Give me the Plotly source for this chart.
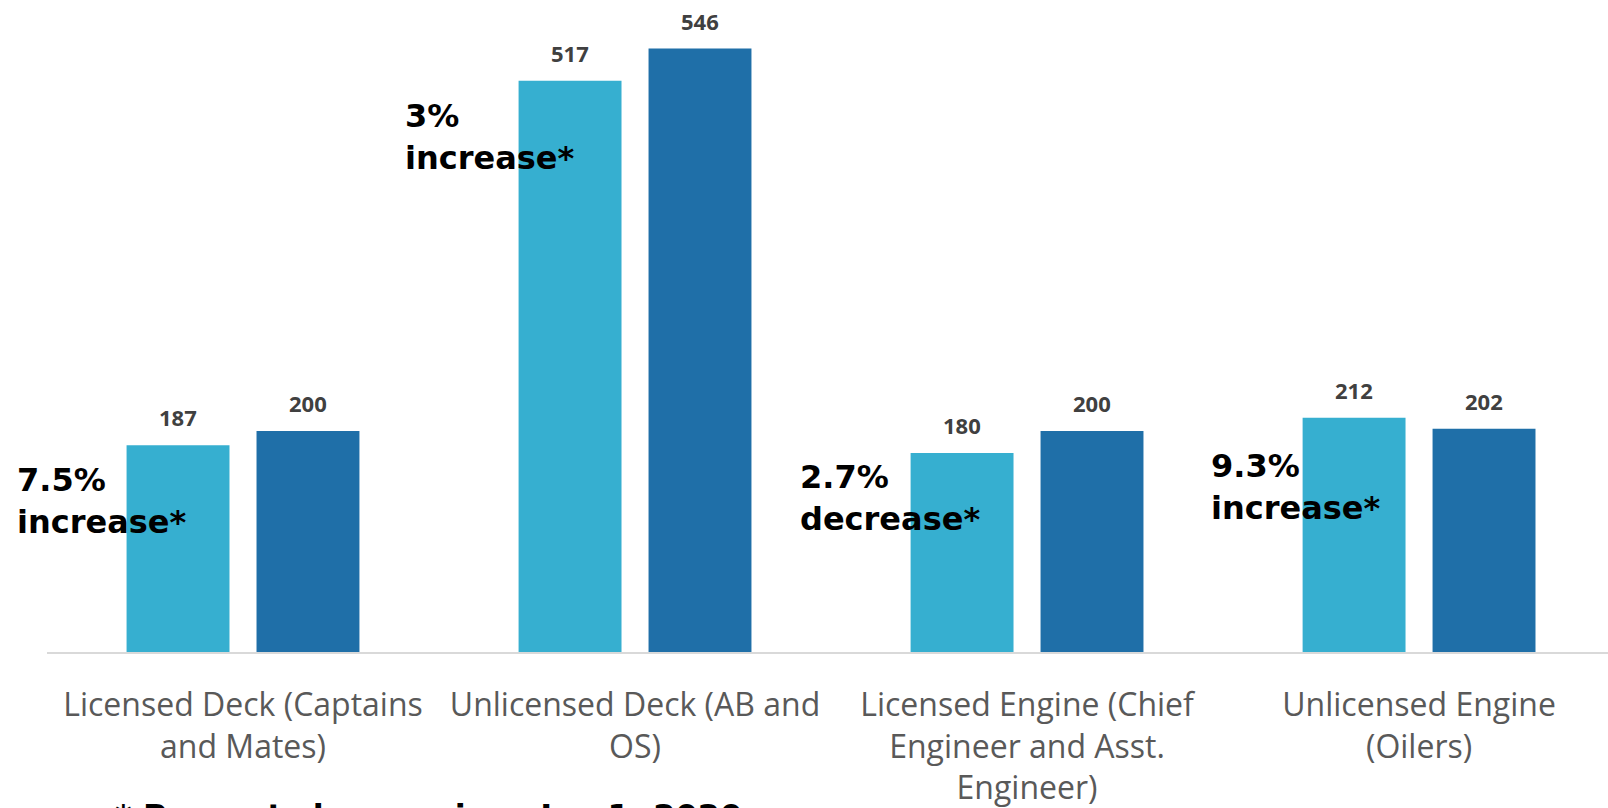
import plotly.graph_objects as go

categories = [
    "Licensed Deck (Captains<br>and Mates)",
    "Unlicensed Deck (AB and<br>OS)",
    "Licensed Engine (Chief<br>Engineer and Asst.<br>Engineer)",
    "Unlicensed Engine<br>(Oilers)",
]
series_2020 = [187, 517, 180, 212]
series_2021 = [200, 546, 200, 202]
change_labels = ["7.5%<br>increase*", "3%<br>increase*", "2.7%<br>decrease*", "9.3%<br>increase*"]
change_x = [-0.582, 0.408, 1.416, 2.464]
change_y = [137, 466, 139, 149]
footnote = "* Percent change since Jan 1, 2020"

LIGHT = "#36AFD0"
DARK = "#1F6FA8"
bargap = 0.337
slot = (1 - bargap) / 2
xs = list(range(len(categories)))
X0, X1 = -0.5, 3.482

fig = go.Figure()
fig.add_trace(go.Bar(x=xs, y=series_2020, marker=dict(color=LIGHT, line=dict(width=0)), name="2020"))
fig.add_trace(go.Bar(x=xs, y=series_2021, marker=dict(color=DARK, line=dict(width=0)), name="2021"))

annotations = []
for i in xs:
    for off, vals in ((-slot / 2, series_2020), (slot / 2, series_2021)):
        annotations.append(dict(
            x=i + off, y=vals[i], xref="x", yref="y", text=str(vals[i]),
            showarrow=False, yanchor="bottom", xanchor="center", yshift=11,
            font=dict(family="Open Sans", size=22, color="#404040", weight="bold"),
        ))
for lab, x, y in zip(change_labels, change_x, change_y):
    annotations.append(dict(
        x=(x - X0) / (X1 - X0), y=y / 590, xref="paper", yref="paper", text=lab,
        showarrow=False, xanchor="left", yanchor="middle", align="left",
        font=dict(family="DejaVu Sans", size=32, color="#000000", weight="bold"),
    ))
annotations.append(dict(
    x=(113 - 47) / 1561, y=-(795 - 652) / 652, xref="paper", yref="paper",
    text=footnote, showarrow=False, xanchor="left", yanchor="top",
    font=dict(family="DejaVu Sans", size=32, color="#000000", weight="bold"),
))

fig.update_layout(
    width=1608, height=808,
    margin=dict(l=47, r=0, t=0, b=156),
    paper_bgcolor="white", plot_bgcolor="white",
    barmode="group", bargap=bargap, bargroupgap=0.208,
    showlegend=False,
    annotations=annotations,
    xaxis=dict(
        range=[X0, X1], tickvals=xs, ticktext=categories,
        showline=True, linecolor="#D9D9D9", linewidth=1.5,
        showgrid=False, zeroline=False, ticks="",
        tickfont=dict(family="Open Sans", size=32, color="#595959"),
        ticklabelstandoff=24,
    ),
    yaxis=dict(range=[0, 590], visible=False, showgrid=False, zeroline=False),
)

fig.write_html("out.html")
